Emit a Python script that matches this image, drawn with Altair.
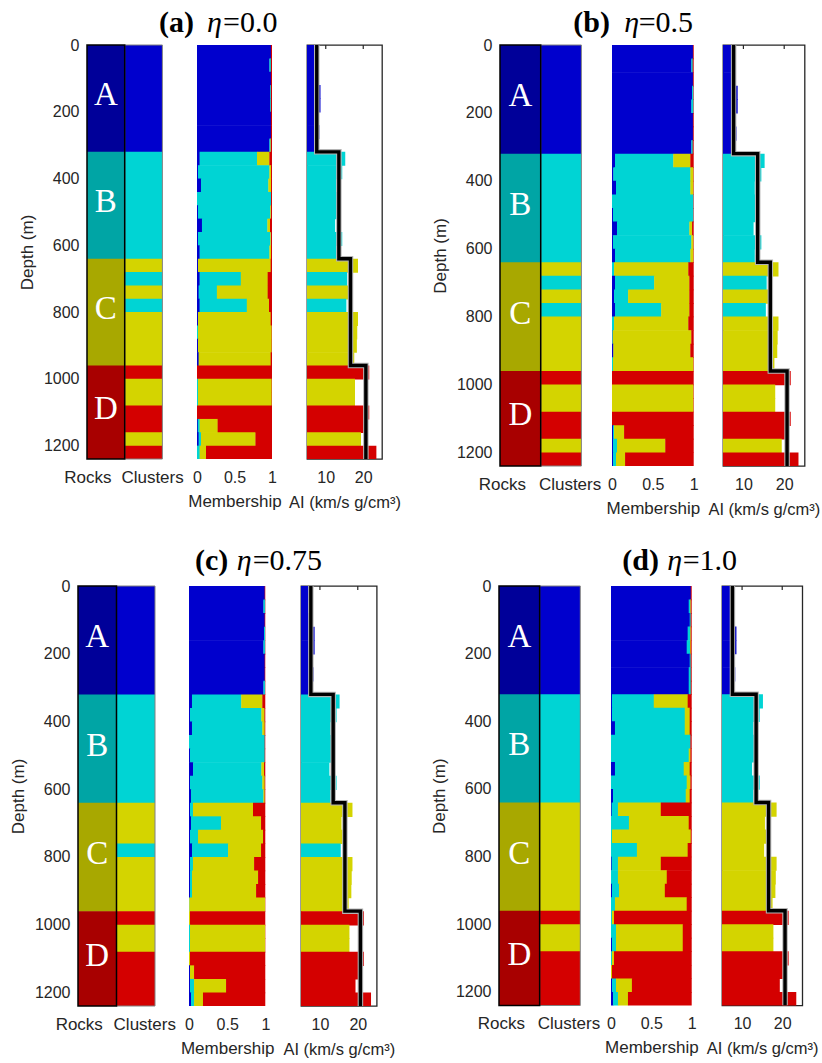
import altair as alt
import pandas as pd

# ---------------- data ----------------
DEPTH_TOP = [0, 40, 80, 120, 160, 200, 240, 280, 320, 360, 400, 440, 480, 520, 560, 600,
             640, 680, 720, 760, 800, 840, 880, 920, 960, 1000, 1040, 1080, 1120, 1160, 1200]
DEPTH_BOT = [40, 80, 120, 160, 200, 240, 280, 320, 360, 400, 440, 480, 520, 560, 600, 640,
             680, 720, 760, 800, 840, 880, 920, 960, 1000, 1040, 1080, 1120, 1160, 1200, 1240]
DEPTH_TICKS = [0, 200, 400, 600, 800, 1000, 1200]

ROCK_NAMES = ["A", "B", "C", "D"]
ROCK_TOP = [0, 320, 640, 960]
ROCK_BOT = [320, 640, 960, 1240]
AI_ROCK_MEAN = [7.6, 13.5, 16.6, 20.7]

AI_VALUES = [7.2, 7.0, 7.2, 8.6, 8.6, 7.9, 8.3, 7.2,
             15.2, 14.4, 12.8, 13.4, 13.4, 12.5, 14.4, 12.8,
             18.6, 15.7, 16.2, 15.5, 18.6, 18.4, 18.3, 17.6,
             21.6, 17.8, 17.8, 21.6, 20.2, 19.4, 23.5]
AI_TICKS = [10, 20]
MEMB_TICKS = [0, 0.5, 1]

CLASS_NAMES = ["blue", "cyan", "yellow", "red"]

# panel (a) eta = 0.0
PA_BLUE = [.985, .965, .985, .975, .975, .985, .985, .965,
           .035, .013, .053, 0, .013, .066, .013, .035,
           .013, .035, .022, .035, .013, 0, .013, .022,
           0, 0, 0, 0, .01, .022, 0]
PA_CYAN = [0, .02, 0, .01, .01, 0, 0, .015,
           .765, .952, .898, .987, .965, .872, .965, .93,
           0, .549, .243, .629, 0, .013, 0, 0,
           0, .013, .013, 0, .025, .031, .035]
PA_YELLOW = [0, 0, 0, 0, 0, 0, 0, .005,
             .165, .022, .036, 0, .009, .035, .009, .022,
             .969, .358, .677, .296, .969, .982, .982, .96,
             0, .982, .982, 0, .24, .726, .085]
PA_RED = [.015, .015, .015, .015, .015, .015, .015, .015,
          .035, .013, .013, .013, .013, .027, .013, .013,
          .018, .058, .058, .04, .018, .005, .005, .018,
          1, .005, .005, 1, .725, .221, .88]

# panel (b) eta = 0.5
PB_BLUE = [.99, .971, .99, .98, .971, .99, .99, .971,
           .037, .016, .049, 0, .012, .061, .012, .037,
           0, .037, .025, .037, 0, .005, .016, 0,
           0, 0, 0, 0, .012, .012, .012]
PB_CYAN = [0, .016, 0, .015, .025, 0, 0, .016,
           .713, .943, .91, .996, .984, .886, .959, .922,
           .025, .479, .172, .565, .025, .005, 0, .012,
           0, 0, 0, 0, .013, .049, .037]
PB_YELLOW = [0, 0, 0, 0, 0, 0, 0, 0,
             .209, .037, .037, 0, 0, .033, .025, .037,
             .909, .431, .75, .345, .909, .961, .943, .984,
             0, .996, .996, 0, .123, .591, .111]
PB_RED = [.01, .013, .01, .005, .004, .01, .01, .013,
          .041, .004, .004, .004, .004, .02, .004, .004,
          .066, .053, .053, .053, .066, .029, .041, .004,
          1, .004, .004, 1, .852, .348, .84]

# panel (c) eta = 0.75
PC_BLUE = [.99, .974, .99, .982, .974, .99, .99, .974,
           .039, .013, .039, 0, .013, .053, .013, .026,
           .013, .026, .013, .039, .013, .013, .013, 0,
           0, 0, 0, 0, .013, .013, .026]
PC_CYAN = [0, .02, 0, .013, .02, 0, 0, .02,
           .645, .934, .921, .99, .977, .894, .947, .948,
           .039, .393, .105, .472, .039, .026, .026, .004,
           0, .013, .013, 0, 0, .053, .04]
PC_YELLOW = [0, 0, 0, 0, 0, 0, 0, 0,
             .276, .04, .03, 0, 0, .035, .03, .016,
             .786, .524, .851, .432, .8, .865, .839, .992,
             .013, .983, .983, .013, .053, .419, .117]
PC_RED = [.01, .006, .01, .005, .006, .01, .01, .006,
          .04, .013, .01, .01, .01, .018, .01, .01,
          .162, .057, .031, .057, .148, .096, .122, .004,
          .987, .004, .004, .987, .934, .515, .817]

# panel (d) eta = 1.0
PD_BLUE = [.988, .963, .975, .95, .938, .975, .963, .963,
           .012, .012, .049, 0, 0, .049, 0, .025,
           .008, 0, 0, 0, .008, 0, .012, 0,
           0, 0, .012, 0, 0, .012, .025]
PD_CYAN = [0, .02, .012, .033, .041, .012, .025, .025,
           .518, .902, .865, .984, .963, .852, .938, .901,
           .078, .222, .012, .321, .078, .086, .087, .049,
           .012, .062, .05, .012, 0, .05, .061]
PD_YELLOW = [0, .005, 0, .005, .008, 0, 0, 0,
             .42, .061, .061, 0, .021, .074, .046, .049,
             .531, .741, .976, .629, .531, .605, .568, .889,
             .025, .827, .827, .025, .012, .197, .124]
PD_RED = [.012, .012, .013, .012, .013, .013, .012, .012,
          .05, .025, .025, .016, .016, .025, .016, .025,
          .383, .037, .012, .05, .383, .309, .333, .062,
          .963, .111, .111, .963, .988, .741, .79]

TITLE_LETTERS = ["(a)", "(b)", "(c)", "(d)"]
TITLE_ETA = ["=0.0", "=0.5", "=0.75", "=1.0"]

# ---------------- style ----------------
SANS = "Liberation Sans"
SERIF = "Liberation Serif"
TEXT_COLOR = "#262626"
CLASS_COLORS = ["#0000CD", "#00D4D4", "#D4D400", "#D40000"]
ROCK_COLORS = ["#000099", "#00A5A5", "#A8A800", "#A80000"]
SEAM = 2.0  # small overlap (m) so that stacked rows show no hairline seams

Y_SCALE = alt.Scale(domain=[0, 1240], reverse=True, nice=False, zero=False)
CLASS_FILL = alt.Scale(domain=CLASS_NAMES, range=CLASS_COLORS)
ONE = pd.DataFrame({"k": [0]})


def argmax_cluster(m):
    out = []
    for i in range(len(DEPTH_TOP)):
        vals = [m[k][i] for k in range(4)]
        out.append(CLASS_NAMES[vals.index(max(vals))])
    return out


def cluster_runs(clusters):
    """merge consecutive depth rows of the same cluster into one interval"""
    tops, bots, cls = [], [], []
    for t, b, c in zip(DEPTH_TOP, DEPTH_BOT, clusters):
        if cls and cls[-1] == c:
            bots[-1] = b
        else:
            tops.append(t)
            bots.append(b)
            cls.append(c)
    return tops, bots, cls


def spacer(w, h):
    return alt.Chart(ONE).mark_rule(strokeWidth=0, opacity=0).encode(
        x=alt.value(0), x2=alt.value(0), y=alt.value(0), y2=alt.value(0)
    ).properties(width=w, height=h)


def rocks_chart(clusters, w, h):
    rock_df = pd.DataFrame({"col": "Rocks", "top": ROCK_TOP, "bot": ROCK_BOT, "rock": ROCK_NAMES,
                            "mid": [(a + b) / 2 for a, b in zip(ROCK_TOP, ROCK_BOT)]})
    rt, rb, rc = cluster_runs(clusters)
    clu_df = pd.DataFrame({"col": "Clusters", "top": rt, "bot": rb, "cls": rc})
    frame_r = pd.DataFrame({"col": ["Rocks"], "top": [ROCK_TOP[0]], "bot": [ROCK_BOT[-1]]})
    frame_c = pd.DataFrame({"col": ["Clusters"], "top": [ROCK_TOP[0]], "bot": [ROCK_BOT[-1]]})
    x = alt.X("col:N",
              scale=alt.Scale(domain=["Rocks", "Clusters"], paddingInner=0, paddingOuter=0),
              axis=alt.Axis(title=None, labelAngle=0, ticks=False, domain=False, labelPadding=10,
                            labelFontSize=17, labelOverlap=False,
                            labelOffset={"condition": {"test": "datum.value == 'Rocks'", "value": -18},
                                         "value": 9}))
    y = alt.Y("top:Q", scale=Y_SCALE,
              axis=alt.Axis(title="Depth (m)", values=DEPTH_TICKS, format="d", ticks=False,
                            domain=False, grid=False, labelPadding=8, labelFontSize=16,
                            titleFontSize=17, titlePadding=7))
    rocks = alt.Chart(rock_df).transform_calculate(b2=f"datum.bot + {SEAM}").mark_rect(
        strokeWidth=0, clip=True).encode(
        x=x, y=y, y2="b2:Q",
        color=alt.Color("rock:N", scale=alt.Scale(domain=ROCK_NAMES, range=ROCK_COLORS), legend=None))
    clus = alt.Chart(clu_df).transform_calculate(b2=f"datum.bot + {SEAM}").mark_rect(
        strokeWidth=0, clip=True).encode(
        x="col:N", y="top:Q", y2="b2:Q",
        fill=alt.Fill("cls:N", scale=CLASS_FILL, legend=None))
    fc = alt.Chart(frame_c).mark_rect(fillOpacity=0, stroke="#808080", strokeWidth=1).encode(
        x="col:N", y="top:Q", y2="bot:Q")
    fr = alt.Chart(frame_r).mark_rect(fillOpacity=0, stroke="black", strokeWidth=1.5).encode(
        x="col:N", y="top:Q", y2="bot:Q")
    letters = alt.Chart(rock_df).mark_text(font=SERIF, fontSize=33, color="white",
                                           baseline="middle", dy=-3).encode(
        x="col:N", y="mid:Q", text="rock:N")
    return alt.layer(rocks, clus, fc, fr, letters).properties(width=w, height=h)


def memb_chart(m, w, h, title, tx, ty):
    recs = []
    for i in range(len(DEPTH_TOP)):
        c0 = 0.0
        for k in range(4):
            v = m[k][i]
            if v <= 0:
                continue
            recs.append({"top": DEPTH_TOP[i], "bot": DEPTH_BOT[i], "x0": c0, "x1": c0 + v,
                         "cls": CLASS_NAMES[k]})
            c0 += v
    df = pd.DataFrame(recs)
    bars = alt.Chart(df).transform_calculate(
        b2=f"datum.bot + {SEAM}", x1e="datum.x1 + 0.004"
    ).mark_rect(clip=True, strokeWidth=0).encode(
        x=alt.X("x0:Q", scale=alt.Scale(domain=[0, 1], nice=False, zero=False),
                axis=alt.Axis(title="Membership", values=MEMB_TICKS, format="~g", ticks=False,
                              domain=False, grid=False, labelPadding=10, labelFontSize=16,
                              labelFlush=False, titleFontSize=17, titlePadding=8)),
        x2="x1e:Q",
        y=alt.Y("top:Q", scale=Y_SCALE, axis=None), y2="b2:Q",
        fill=alt.Fill("cls:N", scale=CLASS_FILL, legend=None))
    t1 = alt.Chart(ONE).mark_text(font=SERIF, fontSize=30, fontWeight="bold", align="left",
                                  baseline="alphabetic", color="black").encode(
        x=alt.value(tx[0]), y=alt.value(ty), text=alt.value(title[0]))
    t2 = alt.Chart(ONE).mark_text(font=SERIF, fontSize=30, fontStyle="italic", align="left",
                                  baseline="alphabetic", color="black").encode(
        x=alt.value(tx[1]), y=alt.value(ty), text=alt.value("η"))
    t3 = alt.Chart(ONE).mark_text(font=SERIF, fontSize=30, align="left",
                                  baseline="alphabetic", color="black").encode(
        x=alt.value(tx[2]), y=alt.value(ty), text=alt.value(title[1]))
    return alt.layer(bars, t1, t2, t3).properties(width=w, height=h)


def ai_chart(clusters, w, h):
    df = pd.DataFrame({"top": DEPTH_TOP, "bot": DEPTH_BOT, "ai": AI_VALUES, "cls": clusters})
    xs = alt.Scale(domain=[5, 25], nice=False, zero=False)
    bars = alt.Chart(df).transform_calculate(b2=f"datum.bot + {SEAM}").mark_rect(
        clip=True, strokeWidth=0).encode(
        x=alt.X("ai:Q", scale=xs,
                axis=alt.Axis(title="AI (km/s g/cm³)", values=AI_TICKS, ticks=False, domain=False,
                              grid=False, labelPadding=10, labelFontSize=16, labelFlush=False,
                              titleFontSize=16.5, titlePadding=9)),
        x2=alt.datum(0),
        y=alt.Y("top:Q", scale=Y_SCALE, axis=None), y2="b2:Q",
        fill=alt.Fill("cls:N", scale=CLASS_FILL, legend=None))
    pts_ai, pts_d = [], []
    for v, t, b in zip(AI_ROCK_MEAN, ROCK_TOP, ROCK_BOT):
        pts_ai += [v, v]
        pts_d += [t, b]
    line_df = pd.DataFrame({"ai": pts_ai, "depth": pts_d, "ord": list(range(len(pts_ai)))})
    halo = alt.Chart(line_df).mark_line(color="#b4b4b4", strokeWidth=5.5, strokeJoin="miter",
                                        clip=True).encode(
        x="ai:Q", y="depth:Q", order="ord:Q")
    line = alt.Chart(line_df).mark_line(color="black", strokeWidth=3.4, strokeJoin="miter",
                                        clip=True).encode(
        x="ai:Q", y="depth:Q", order="ord:Q")
    tick_df = pd.DataFrame({"t": AI_TICKS})
    ticks = alt.Chart(tick_df).mark_rule(color="#262626", strokeWidth=1.2).encode(
        x="t:Q", y=alt.value(0), y2=alt.value(4))
    return alt.layer(bars, halo, line, ticks).properties(
        width=w, height=h, view=alt.ViewBackground(stroke="#262626", strokeWidth=1.3))


# panel geometry (plot-area widths / gaps / heights, in px)
PANELS = [
    dict(m=[PA_BLUE, PA_CYAN, PA_YELLOW, PA_RED], lead=86.3, rc=75.4, g1=33.3, mw=75, g2=34.3, aw=75,
         h=414, tx=(-38, 10, 26), ty=-13),
    dict(m=[PB_BLUE, PB_CYAN, PB_YELLOW, PB_RED], lead=118, rc=81.4, g1=29.3, mw=81.7, g2=29, aw=81.6,
         h=421, tx=(-38.7, 12.3, 26.7), ty=-13),
    dict(m=[PC_BLUE, PC_CYAN, PC_YELLOW, PC_RED], lead=77.3, rc=77, g1=34, mw=76.4, g2=34.3, aw=75.7,
         h=420, tx=(6, 47.7, 63.7), ty=-16),
    dict(m=[PD_BLUE, PD_CYAN, PD_YELLOW, PD_RED], lead=122, rc=81.3, g1=30, mw=80.7, g2=29.3, aw=80.3,
         h=419.5, tx=(11.3, 56.3, 71.7), ty=-16),
]


def panel_cells(i):
    p = PANELS[i]
    clusters = argmax_cluster(p["m"])
    return [
        spacer(p["lead"], p["h"]),
        rocks_chart(clusters, p["rc"], p["h"]),
        spacer(p["g1"], p["h"]),
        memb_chart(p["m"], p["mw"], p["h"], (TITLE_LETTERS[i], TITLE_ETA[i]), p["tx"], p["ty"]),
        spacer(p["g2"], p["h"]),
        ai_chart(clusters, p["aw"], p["h"]),
    ]


# each row flows left-to-right with plot areas placed edge to edge (spacers set the gaps);
# rows are stacked by their full extents (row 1 bottom text -> row 2 titles)
row1 = alt.hconcat(*(panel_cells(0) + panel_cells(1)), spacing=0, bounds="flush")
row2 = alt.hconcat(*(panel_cells(2) + panel_cells(3)), spacing=0, bounds="flush")

chart = alt.vconcat(row1, row2, spacing=27).properties(
    padding={"left": 0, "top": 8, "right": 0, "bottom": 0}, background="white"
).configure_view(strokeWidth=0).configure_axis(
    labelFont=SANS, titleFont=SANS, labelColor=TEXT_COLOR, titleColor=TEXT_COLOR,
    titleFontWeight="normal"
).configure_text(font=SANS)

chart.save("out.html", embed_options={"renderer": "svg", "actions": False})
